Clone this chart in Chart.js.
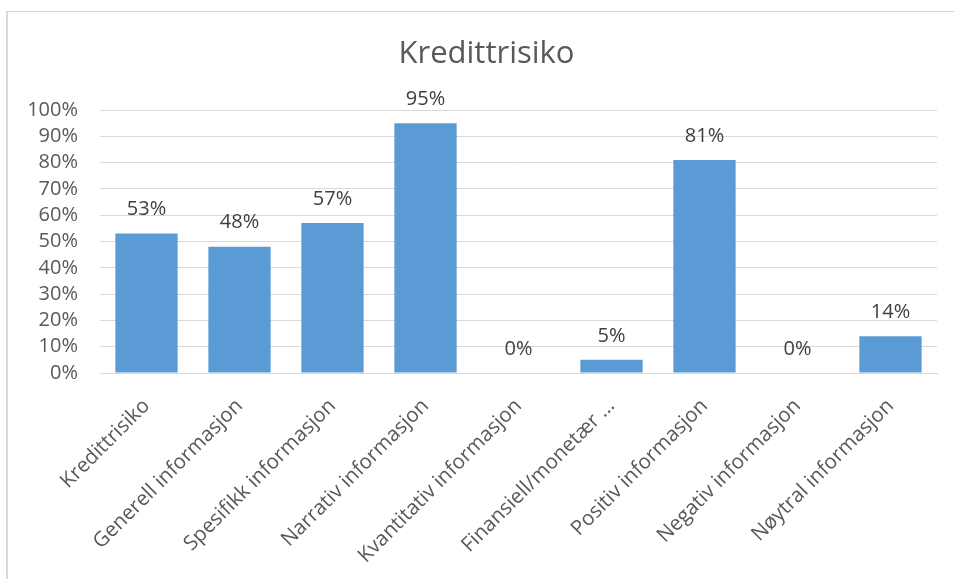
<!DOCTYPE html>
<html>
<head>
<meta charset="utf-8">
<script src="https://cdn.jsdelivr.net/npm/chart.js@4/dist/chart.umd.min.js"></script>
<style>
  html, body { margin: 0; padding: 0; background: #fff; overflow: hidden; }
  #wrap { position: relative; width: 954px; height: 579px; overflow: hidden; }
  #frame { position: absolute; left: 6px; top: 11px; width: 1000px; height: 700px; border-left: 2px solid #d9d9d9; border-top: 1px solid #d0d0d0; box-sizing: border-box; pointer-events: none; }
  canvas { position: absolute; left: 0; top: 0; }
</style>
</head>
<body>
<div id="wrap">
  <canvas id="c" width="954" height="579"></canvas>
  <div id="frame"></div>
</div>
<script>
const chartTitle = "Kredittrisiko";
const categories = [
  "Kredittrisiko",
  "Generell informasjon",
  "Spesifikk informasjon",
  "Narrativ informasjon",
  "Kvantitativ informasjon",
  "Finansiell/monetær …",
  "Positiv informasjon",
  "Negativ informasjon",
  "Nøytral informasjon"
];
const values = [53, 48, 57, 95, 0, 5, 81, 0, 14];
const yTicks = [0, 10, 20, 30, 40, 50, 60, 70, 80, 90, 100];

const FONT = "'Open Sans', sans-serif";
const TEXT = "#595959";

const dataLabels = {
  id: 'dataLabels',
  afterLayout(chart) {
    if (chart.titleBlock) {
      chart.titleBlock.left += 18;
      chart.titleBlock.right += 18;
    }
  },
  afterDatasetsDraw(chart) {
    const ctx = chart.ctx;
    const meta = chart.getDatasetMeta(0);
    ctx.save();
    ctx.font = "20px " + FONT;
    ctx.fillStyle = "#404040";
    ctx.textAlign = "center";
    ctx.textBaseline = "middle";
    meta.data.forEach((bar, i) => {
      ctx.fillText(values[i] + "%", bar.x, bar.y - 24);
    });
    ctx.restore();
  }
};

new Chart(document.getElementById('c'), {
  type: 'bar',
  data: {
    labels: categories,
    datasets: [{
      data: values,
      backgroundColor: '#5b9bd5',
      borderWidth: 0,
      barPercentage: 0.67,
      categoryPercentage: 1.0
    }]
  },
  options: {
    responsive: false,
    animation: false,
    layout: { padding: { left: 0, right: 17, top: 0, bottom: 0 } },
    plugins: {
      legend: { display: false },
      tooltip: { enabled: false },
      title: {
        display: true,
        text: chartTitle,
        color: TEXT,
        font: { family: FONT, size: 31, weight: 'normal', lineHeight: 1.2 },
        padding: { top: 36, bottom: 36.8 }
      }
    },
    scales: {
      x: {
        grid: { display: false, drawTicks: false },
        border: { display: true, color: '#d9d9d9' },
        ticks: {
          color: TEXT,
          font: { family: FONT, size: 20.5 },
          minRotation: 45,
          maxRotation: 45,
          autoSkip: false,
          padding: 21
        },
        afterFit(scale) { scale.height = 206; }
      },
      y: {
        min: 0,
        max: 100,
        afterBuildTicks(scale) { scale.ticks = yTicks.map(v => ({ value: v })); },
        grid: { color: '#d9d9d9', drawTicks: false },
        border: { display: false },
        ticks: {
          color: TEXT,
          font: { family: FONT, size: 20 },
          padding: 22,
          autoSkip: false,
          callback: v => v + "%"
        },
        afterFit(scale) { scale.width = 100; }
      }
    }
  },
  plugins: [dataLabels]
});
</script>
</body>
</html>
